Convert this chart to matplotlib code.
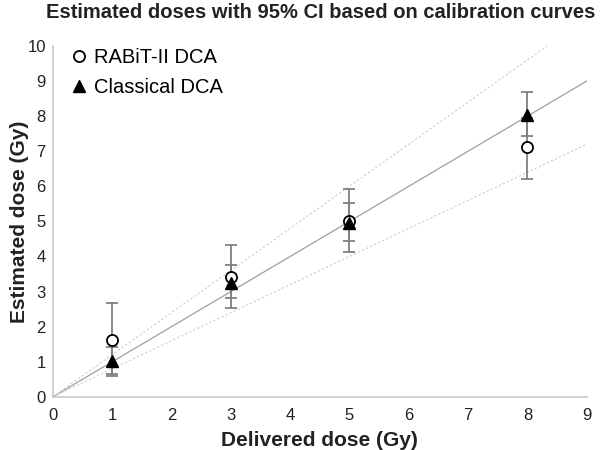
import matplotlib
matplotlib.use("Agg")
import matplotlib.pyplot as plt
import numpy as np

plt.rcParams['font.family'] = ['Liberation Sans', 'DejaVu Sans']

delivered = [1, 3, 5, 8]
rabit_est = [1.62, 3.43, 5.0, 7.11]
rabit_low = [0.64, 2.54, 4.13, 6.21]
rabit_high = [2.68, 4.33, 5.93, 7.95]
classic_est = [1.03, 3.25, 4.95, 8.03]
classic_low = [0.60, 2.82, 4.45, 7.42]
classic_high = [1.42, 3.76, 5.53, 8.68]

ref_x = [0, 9]
upper_slope = 1.2
lower_slope = 0.8

xticks = list(range(0, 10))
yticks = list(range(0, 11))

fig = plt.figure(figsize=(6, 4.5), dpi=100)
ax = fig.add_axes([0.088, 0.118, 0.89, 0.78])

ax.plot(ref_x, ref_x, color='#a0a0a0', lw=0.9, zorder=1)
ax.plot([0, 10 / upper_slope], [0, 10], color='#cccccc', lw=0.8, ls=(0, (2, 2)), zorder=1)
ax.plot(ref_x, [lower_slope * v for v in ref_x], color='#cccccc', lw=0.8, ls=(0, (2, 2)), zorder=1)

r = np.array(rabit_est)
c = np.array(classic_est)
ax.errorbar(delivered, rabit_est,
            yerr=[r - np.array(rabit_low), np.array(rabit_high) - r],
            fmt='none', ecolor='#808080', elinewidth=1.3, capsize=4, capthick=1.3, zorder=2)
ax.errorbar(delivered, classic_est,
            yerr=[c - np.array(classic_low), np.array(classic_high) - c],
            fmt='none', ecolor='#808080', elinewidth=1.3, capsize=4, capthick=1.3, zorder=2)
ax.plot(delivered, rabit_est, ls='none', marker='o', ms=8, mfc='white', mec='black', mew=1.3,
        label='RABiT-II DCA', zorder=3)
ax.plot(delivered, classic_est, ls='none', marker='^', ms=8, mfc='black', mec='black',
        label='Classical DCA', zorder=4)

ax.set_xlim(0, 9)
ax.set_ylim(0, 10)
ax.set_xticks(xticks)
ax.set_yticks(yticks)
ax.tick_params(length=0, labelsize=12, colors='#222222')
ax.tick_params(axis='x', pad=8)
ax.tick_params(axis='y', pad=5)
for s in ['top', 'right']:
    ax.spines[s].set_visible(False)
for s in ['left', 'bottom']:
    ax.spines[s].set_color('#c8c8c8')
    ax.spines[s].set_linewidth(1.2)

ax.set_xlabel('Delivered dose (Gy)', fontsize=15, fontweight='bold', color='#222222', labelpad=6)
ax.set_ylabel('Estimated dose (Gy)', fontsize=15, fontweight='bold', color='#222222')
ax.yaxis.set_label_coords(-0.045, 0.5)
fig.text(0.535, 0.972, 'Estimated doses with 95% CI based on calibration curves', fontsize=14.5,
         fontweight='bold', color='#222222', ha='center', va='center')

leg = ax.legend(loc='upper left', bbox_to_anchor=(0.0, 1.035), frameon=False, fontsize=14.5,
                handletextpad=0.15, handlelength=1.2, borderaxespad=0.3, labelspacing=0.55)

fig.savefig('out.png', dpi=100)
